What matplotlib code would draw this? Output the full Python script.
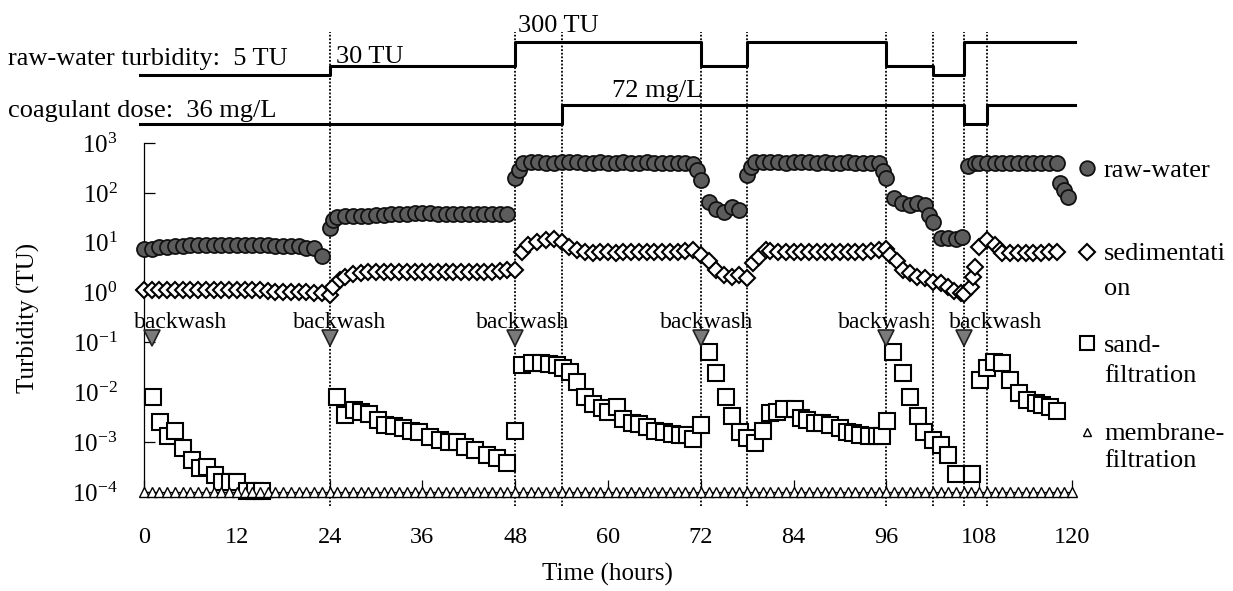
import matplotlib
matplotlib.use("Agg")
import matplotlib.pyplot as plt
from matplotlib.lines import Line2D
from matplotlib.ticker import LogLocator, NullLocator, FixedLocator

plt.rcParams['font.family'] = ['Liberation Serif', 'DejaVu Serif']
plt.rcParams['mathtext.fontset'] = 'custom'
plt.rcParams['mathtext.rm'] = 'Liberation Serif'
plt.rcParams['mathtext.it'] = 'Liberation Serif:italic'
plt.rcParams['mathtext.bf'] = 'Liberation Serif:bold'

# ---- data ----
raw_hours = [0, 1, 2, 3, 4, 5, 6, 7, 8, 9, 10, 11, 12, 13, 14, 15, 16, 17, 18, 19, 20, 21, 22, 23,
             24, 24.5,
             25, 26, 27, 28, 29, 30, 31, 32, 33, 34, 35, 36, 37, 38, 39, 40, 41, 42, 43, 44, 45, 46, 47,
             48, 48.5,
             49, 50, 51, 52, 53, 54, 55, 56, 57, 58, 59, 60, 61, 62, 63, 64, 65, 66, 67, 68, 69, 70, 71,
             71.5, 72, 73, 74, 75, 76, 77,
             78, 78.5,
             79, 80, 81, 82, 83, 84, 85, 86, 87, 88, 89, 90, 91, 92, 93, 94, 95,
             95.5, 96, 97, 98, 99, 100, 101, 101.5, 102,
             103, 104, 105, 105.8,
             106.5, 107.5,
             108, 109, 110, 111, 112, 113, 114, 115, 116, 117, 118,
             118.5, 119, 119.5]
raw_tu = [7.4, 7.4, 8.3, 8.3, 8.6, 8.6, 8.8, 8.8, 8.8, 8.8, 8.8, 8.8, 8.8, 8.8, 8.8, 8.8, 8.8, 8.6, 8.6, 8.6, 8.4, 7.8, 7.8, 5.4,
          20, 28,
          33, 34, 34, 35, 35, 36, 36, 37, 38, 38, 39, 39, 39, 38, 38, 38, 38, 38, 38, 38, 38, 38, 37,
          200, 290,
          400, 410, 410, 400, 400, 410, 420, 410, 400, 400, 410, 400, 400, 410, 400, 400, 410, 400, 400, 390, 400, 400, 380,
          290, 180, 65, 48, 42, 52, 45,
          230, 330,
          410, 420, 410, 410, 400, 410, 420, 410, 400, 410, 400, 400, 410, 400, 400, 400, 390,
          270, 200, 78, 62, 58, 62, 56, 36, 26,
          12.3, 12.3, 12.0, 13,
          340, 390,
          400, 400, 400, 390, 400, 400, 400, 390, 400, 400, 390,
          160, 115, 83]

sed_hours = [0, 1, 2, 3, 4, 5, 6, 7, 8, 9, 10, 11, 12, 13, 14, 15, 16, 17, 18, 19, 20, 21, 22, 23,
             24, 24.5, 25.3, 26, 27,
             28, 29, 30, 31, 32, 33, 34, 35, 36, 37, 38, 39, 40, 41, 42, 43, 44, 45, 46, 47,
             48, 48.9, 49.7, 50.8, 52, 53, 54, 55, 56,
             57, 58, 59, 60, 61, 62, 63, 64, 65, 66, 67, 68, 69, 70, 71,
             72, 73, 74, 75, 76, 77, 78,
             78.8, 79.5, 80.4,
             81, 82, 83, 84, 85, 86, 87, 88, 89, 90, 91, 92, 93, 94, 95,
             96, 96.5, 97.4, 98.2, 99, 100, 101, 102, 103, 104, 104.7, 105.6, 106,
             106.9, 107.2, 107.5, 108, 109, 110, 110.7,
             111, 112, 113, 114, 115, 116, 117, 118]
sed_tu = [1.12, 1.12, 1.12, 1.12, 1.12, 1.12, 1.12, 1.12, 1.12, 1.12, 1.12, 1.12, 1.12, 1.12, 1.12, 1.12, 1.1, 1.05, 1.05, 1.05, 1.05, 1.05, 1.0, 1.0,
          0.9, 1.3, 1.8, 2.1, 2.4,
          2.5, 2.6, 2.6, 2.6, 2.6, 2.6, 2.6, 2.6, 2.6, 2.6, 2.6, 2.6, 2.6, 2.6, 2.6, 2.6, 2.6, 2.6, 2.7, 2.8,
          2.9, 6.6, 9.0, 10.5, 11.3, 12.0, 10.5, 8.3, 7.1,
          6.6, 6.3, 6.6, 6.6, 6.3, 6.6, 6.6, 6.6, 6.6, 6.6, 6.6, 6.6, 6.6, 6.8, 7.3,
          5.6, 4.2, 2.8, 2.2, 2.1, 2.2, 1.95,
          3.9, 5.2, 7.1,
          6.8, 6.6, 6.6, 6.6, 6.6, 6.6, 6.6, 6.6, 6.6, 6.6, 6.6, 6.6, 6.6, 6.8, 7.3,
          7.5, 5.6, 4.2, 2.8, 2.45, 2.1, 2.0, 1.66, 1.55, 1.3, 1.1, 1.0, 0.95,
          1.3, 2.1, 3.3, 8.3, 11.3, 9.0, 7.1,
          6.3, 6.3, 6.3, 6.3, 6.3, 6.3, 6.5, 6.5]

sand_hours = [1.2, 2.1, 3.1, 4, 5.1, 6.2, 7.2, 8.1, 9.2, 10.1, 11.1, 12, 13.3, 14.3, 15.2,
              25, 26, 27.1, 28, 29.1, 30.3, 31.2, 32.3, 33.5, 34.5, 35.5, 37, 38.3, 39.4, 40.5,
              41.5, 42.8, 44.3, 45.6, 46.9, 48,
              48.9, 50.2, 51.3, 52.4, 53.4, 54.2, 55.1, 56, 57, 58, 59.2, 60, 61.2, 62, 63.1, 64,
              65, 66.1, 67.2, 68.3, 69.3, 70.2, 71, 72,
              73.1, 74, 75.2, 76, 77.1, 78, 79, 80, 81, 81.8, 82.8, 84.2, 84.9, 85.7, 86.8, 87.7,
              88.7, 90, 90.9, 91.7, 92.6, 93.7, 94.8, 95.4, 96.1,
              96.9, 98.1, 99, 100.1, 100.9, 102, 103, 104, 105, 107.1,
              108.1, 109, 109.9, 111, 112, 113.2, 114.2, 115.3, 116.1, 117.1, 118.1]
sand_tu = [0.008, 0.0025, 0.0013, 0.0017, 0.00076, 0.00044, 0.0003, 0.00032, 0.00022, 0.00016, 0.00016, 0.00016, 0.000105, 0.000105, 0.000105,
           0.008, 0.0035, 0.0045, 0.004, 0.0036, 0.0028, 0.0022, 0.0021, 0.0019, 0.0017, 0.0016, 0.00126, 0.0011, 0.001, 0.00099,
           0.0008, 0.00071, 0.00055, 0.00048, 0.00038, 0.0017,
           0.035, 0.038, 0.038, 0.037, 0.035, 0.031, 0.025, 0.016, 0.0081, 0.0059, 0.0048, 0.0041, 0.005, 0.0029, 0.0024, 0.0023,
           0.002, 0.0017, 0.0016, 0.00145, 0.0014, 0.0014, 0.00115, 0.0022,
           0.063, 0.024, 0.008, 0.0033, 0.0016, 0.0012, 0.00098, 0.0017, 0.0039, 0.0041, 0.0046, 0.0047, 0.003, 0.0028, 0.0024, 0.0024,
           0.0022, 0.0019, 0.0016, 0.0015, 0.0014, 0.0013, 0.0013, 0.0013, 0.0027,
           0.063, 0.024, 0.0081, 0.0033, 0.0016, 0.0011, 0.00087, 0.00055, 0.00023, 0.00023,
           0.018, 0.03, 0.04, 0.038, 0.018, 0.0095, 0.0071, 0.006, 0.0056, 0.005, 0.0043]

membrane_hours = list(range(0, 121))
membrane_tu = [1e-4] * len(membrane_hours)   # at the detection limit the whole run

backwash_hours = [1, 24, 48, 72, 96, 106]
backwash_tu = 0.12
event_hours = [24, 48, 54, 72, 78, 96, 102, 106, 109]

# operating conditions shown above the plot
turb_change_hours = [0, 24, 48, 72, 78, 96, 102, 106, 120]
turb_levels = [5, 30, 300, 30, 300, 30, 5, 300]
dose_change_hours = [0, 54, 106, 109, 120]
dose_levels = [36, 72, 36, 72]

# ---- layout (pixel units of the 1233x591 picture) ----
W, H = 1233, 591
turb_y = {5: 75, 30: 66, 300: 42}
dose_y = {36: 124, 72: 105}


def fx(px):
    return px / W


def fy(py):
    return 1 - py / H


fig = plt.figure(figsize=(W / 100, H / 100), dpi=100)
ax = fig.add_axes([fx(144), fy(492), fx(1072) - fx(144), fy(143) - fy(492)])
top = fig.add_axes([fx(144), fy(143), fx(1072) - fx(144), fy(0) - fy(143)])

# main panel
ax.plot(raw_hours, raw_tu, 'o', ms=10.8, mfc='#5c5c5c', mec='#111111', mew=1.3,
        clip_on=False, zorder=4)
ax.plot(sed_hours, sed_tu, 'D', ms=8.2, mfc='white', mec='black', mew=1.5,
        clip_on=False, zorder=4)
ax.plot(sand_hours, sand_tu, 's', ms=11.2, mfc='white', mec='black', mew=1.5,
        clip_on=False, zorder=4)
ax.plot(membrane_hours, membrane_tu, '^', ms=7.4, mfc='white', mec='black', mew=1.0,
        clip_on=False, zorder=5)

ax.plot(backwash_hours, [backwash_tu] * len(backwash_hours), 'v', ms=11,
        mfc='#7a7a7a', mec='#222222', mew=1.2, clip_on=False, zorder=5)
label_dx = [-18, -37, -39, -41, -48, -15]
for h, dx in zip(backwash_hours, label_dx):
    ax.annotate('backwash', (h, backwash_tu), xytext=(dx, 10),
                textcoords='offset pixels', ha='left', va='baseline', fontsize=17)

for h in event_hours:
    ax.axvline(h, ymin=(492 - 506) / 349, ymax=(492 - 32) / 349, color='black',
               ls=(0, (1, 1)), lw=1.3, clip_on=False, zorder=1)

ax.set_yscale('log')
ax.set_ylim(1e-4, 1e3)
ax.set_xlim(0, 120)
ax.yaxis.set_major_locator(LogLocator(base=10, numticks=10))
ax.yaxis.set_minor_locator(NullLocator())
ax.xaxis.set_major_locator(FixedLocator(range(0, 121, 12)))
ax.spines['top'].set_visible(False)
ax.spines['right'].set_visible(False)
ax.spines['left'].set_linewidth(0.9)
ax.spines['bottom'].set_linewidth(0.9)
ax.tick_params(axis='y', direction='in', length=8, width=0.9, pad=19, labelsize=18)
ax.tick_params(axis='x', direction='in', length=9, width=0.9, pad=25, labelsize=17.5)

fig.text(fx(28), fy(318), 'Turbidity (TU)', rotation=90, ha='center', va='center', fontsize=18)
fig.text(fx(607), fy(574), 'Time (hours)', ha='center', va='center', fontsize=18)

# step lines for raw-water turbidity and coagulant dose
top.set_xlim(0, 120)
top.set_ylim(143, 0)
top.axis('off')
tx = [turb_change_hours[0] - 0.5] + turb_change_hours[1:-1] + [turb_change_hours[-1] + 0.4]
ty = [turb_y[v] for v in turb_levels]
top.step(tx, ty + [ty[-1]], where='post', color='black', lw=2.2, clip_on=False)
dx_ = [dose_change_hours[0] - 0.5] + dose_change_hours[1:-1] + [dose_change_hours[-1] + 0.4]
dy_ = [dose_y[v] for v in dose_levels]
top.step(dx_, dy_ + [dy_[-1]], where='post', color='black', lw=2.2, clip_on=False)

fig.text(fx(8), fy(65), 'raw-water turbidity:  5 TU', ha='left', va='baseline', fontsize=19)
fig.text(fx(336), fy(63), '30 TU', ha='left', va='baseline', fontsize=19)
fig.text(fx(518), fy(32), '300 TU', ha='left', va='baseline', fontsize=19)
fig.text(fx(8), fy(117), 'coagulant dose:  36 mg/L', ha='left', va='baseline', fontsize=19)
fig.text(fx(612), fy(97), '72 mg/L', ha='left', va='baseline', fontsize=19)

# legend on the right
legend_rows = [
    (168, dict(marker='o', ms=10.5, mfc='#5c5c5c', mec='#111111', mew=1.3),
     [('raw-water', 177)]),
    (252, dict(marker='D', ms=8, mfc='white', mec='black', mew=1.5),
     [('sedimentati', 260), ('on', 295)]),
    (343, dict(marker='s', ms=10.5, mfc='white', mec='black', mew=1.5),
     [('sand-', 352), ('filtration', 382)]),
    (432, dict(marker='^', ms=6, mfc='white', mec='black', mew=1.0),
     [('membrane-', 440), ('filtration', 467)]),
]
for my, style, lines in legend_rows:
    fig.add_artist(Line2D([fx(1087)], [fy(my)], transform=fig.transFigure, ls='none', **style))
    for txt, by in lines:
        fig.text(fx(1104), fy(by), txt, ha='left', va='baseline', fontsize=19)

fig.savefig('out.png', dpi=100)
